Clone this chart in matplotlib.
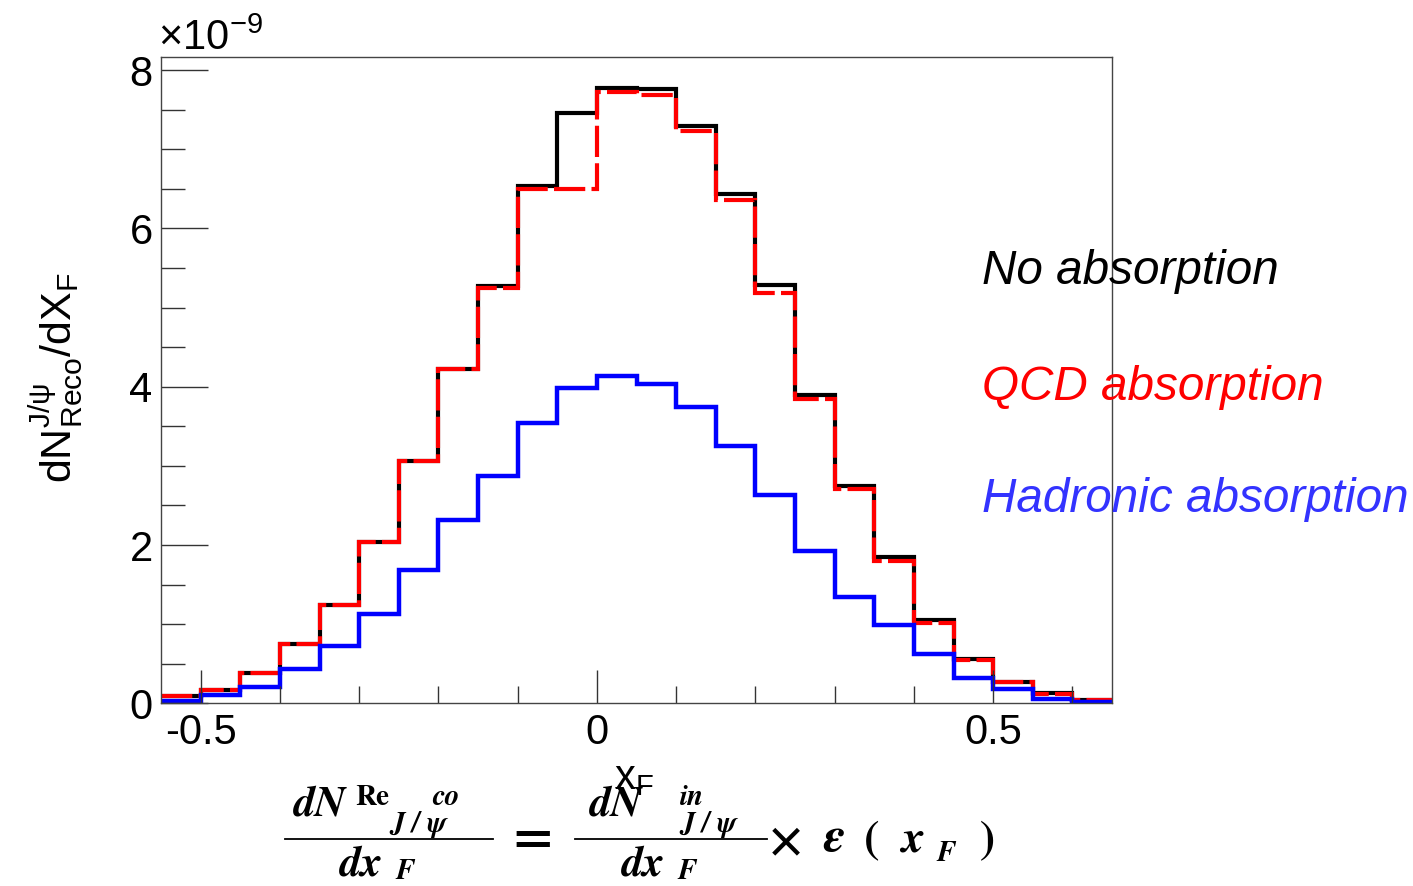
import numpy as np
import matplotlib
matplotlib.use('Agg')
import matplotlib.pyplot as plt
from matplotlib.lines import Line2D

plt.rcParams['font.family'] = ['Liberation Sans', 'DejaVu Sans']
plt.rcParams['mathtext.fontset'] = 'custom'
plt.rcParams['mathtext.rm'] = 'Liberation Sans'
plt.rcParams['mathtext.it'] = 'Liberation Sans:italic'

# bin edges in x_F (24 bins of 0.05)
edges = np.round(np.arange(-0.55, 0.651, 0.05), 3)

# dN/dx_F in units of 1e-9
no_abs = [0.09, 0.17, 0.38, 0.75, 1.24, 2.04, 3.06, 4.22, 5.27, 6.53, 7.46, 7.78,
          7.76, 7.30, 6.44, 5.28, 3.90, 2.75, 1.85, 1.05, 0.56, 0.27, 0.13, 0.04]
qcd_abs = [0.09, 0.17, 0.38, 0.75, 1.24, 2.04, 3.06, 4.22, 5.25, 6.50, 6.50, 7.72,
           7.68, 7.23, 6.36, 5.19, 3.84, 2.71, 1.80, 1.02, 0.55, 0.27, 0.12, 0.04]
had_abs = [0.03, 0.11, 0.21, 0.43, 0.72, 1.13, 1.69, 2.32, 2.87, 3.54, 3.99, 4.13,
           4.04, 3.75, 3.25, 2.63, 1.92, 1.34, 0.99, 0.62, 0.32, 0.18, 0.06, 0.02]

W, H = 1413, 886
fig = plt.figure(figsize=(W / 100, H / 100), dpi=100)
ax = fig.add_axes([0.114, 0.2062, 0.673, 0.7298])


def px(x, y):
    # pixel position (from top-left) -> figure fraction
    return x / W, 1 - y / H


ax.stairs(no_abs, edges, baseline=None, color='black', lw=3.0)
ax.stairs(qcd_abs, edges, baseline=None, color='#ff0000', lw=3.0,
          linestyle=(0, (7.5, 1.5)))
ax.stairs(had_abs, edges, baseline=None, color='#0000ff', lw=3.2)

ax.set_xlim(-0.55, 0.65)
ax.set_ylim(0, 8.17)

ax.set_xticks([-0.5, 0, 0.5])
ax.set_xticklabels(['-0.5', '0', '0.5'])
ax.set_xticks(np.arange(-0.5, 0.61, 0.1), minor=True)
ax.set_yticks([0, 2, 4, 6, 8])
ax.set_yticks(np.arange(0, 8.1, 0.5), minor=True)

ax.tick_params(which='both', direction='in', top=False, right=False,
               labelsize=30, width=1.0, color='#333333')
ax.tick_params(axis='y', which='major', length=34, pad=6)
ax.tick_params(axis='y', which='minor', length=17)
ax.tick_params(axis='x', which='major', length=24, pad=7)
ax.tick_params(axis='x', which='minor', length=12)
for sp in ax.spines.values():
    sp.set_color('#444444')
    sp.set_linewidth(1.0)

fig.text(*px(158, 50), r'$\mathregular{\times 10^{-9}}$', fontsize=30,
         ha='left', va='baseline')

fig.text(*px(57, 378), r'$\mathregular{dN^{J/ψ}_{Reco}/dX_F}$', fontsize=31,
         rotation=90, ha='center', va='center')
fig.text(*px(634, 778), r'$\mathregular{x_F}$', fontsize=30, ha='center', va='center')

fig.text(*px(982, 272), 'No absorption', fontsize=34.3, style='italic',
         color='black', ha='left', va='center')
fig.text(*px(982, 387), 'QCD absorption', fontsize=34.3, style='italic',
         color='#ff0000', ha='left', va='center')
fig.text(*px(982, 500), 'Hadronic absorption', fontsize=34.3, style='italic',
         color='#3333ff', ha='left', va='center')

# efficiency formula under the plot, built piece by piece
S = 31
s = 21
formula = [
    # (x centre, baseline y, text, size, italic)
    (320, 815, 'dN', S, True),
    (372, 805, 'Re', s, False),
    (446, 805, 'co', s, True),
    (418, 832, 'J / ψ', s, True),
    (361, 876, 'dx', S, True),
    (405, 879, 'F', s, True),
    (616, 815, 'dN', S, True),
    (692, 805, 'in', s, True),
    (708, 832, 'J / ψ', s, True),
    (643, 876, 'dx', S, True),
    (687, 879, 'F', s, True),
    (834, 851, 'ε', S + 4, True),
    (872, 853, '(', S + 2, False),
    (913, 851, 'x', S + 2, True),
    (946, 861, 'F', s, True),
    (987, 853, ')', S + 2, False),
]
for x, y, t, size, it in formula:
    fig.text(*px(x, y), t, fontsize=size, family='STIXGeneral', weight='bold',
             style='italic' if it else 'normal', ha='center', va='baseline')
fig.text(*px(533, 840), '=', fontsize=S + 8, family='STIXGeneral', weight='bold',
         ha='center', va='center')
fig.text(*px(786, 842), '×', fontsize=S + 4, family='STIXGeneral', weight='bold',
         ha='center', va='center')
for x0, x1 in [(285, 493), (575, 767)]:
    fig.add_artist(Line2D([x0 / W, x1 / W], [1 - 839 / H] * 2,
                          transform=fig.transFigure, color='black', lw=1.3))

fig.savefig('out.png', dpi=100)
